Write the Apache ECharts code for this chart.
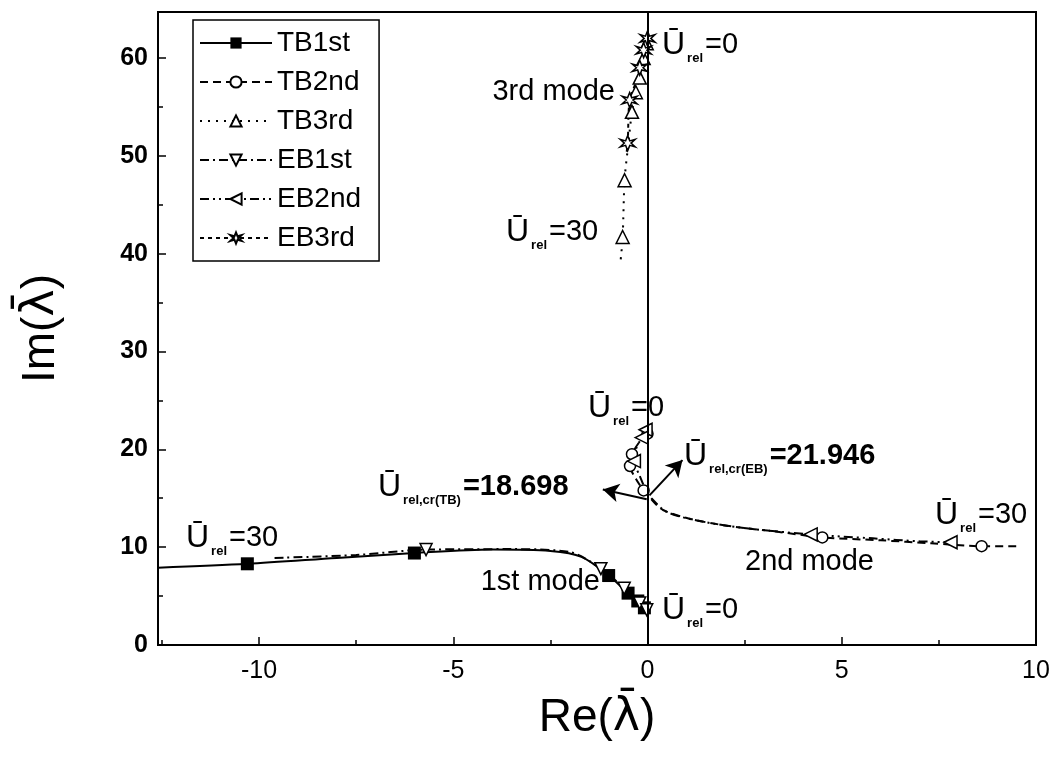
<!DOCTYPE html>
<html>
<head>
<meta charset="utf-8">
<script src="https://cdn.jsdelivr.net/npm/echarts@6/dist/echarts.min.js"></script>
<style>
  html, body { margin: 0; padding: 0; background: #fff; }
  #chart { width: 1059px; height: 767px; }
</style>
</head>
<body>
<div id="chart"></div>
<script>
// root loci data: [Re, Im]
var tb1stX = [-12.6, -10.3, -8, -6, -4, -2.5, -1.7, -1.0, -0.5, -0.25, -0.08];
var tb1stY = [7.9, 8.3, 8.9, 9.4, 9.75, 9.6, 9.0, 7.1, 5.3, 4.5, 3.8];
var tb1stMarks = [1, 3, 7, 8, 9, 10];

var tb2ndX = [0.0, -0.2, -0.4, -0.45, -0.3, -0.1, 0.05, 0.4, 1.2, 2.2, 3.3, 4.5, 6, 7.3, 8.6, 9.6];
var tb2ndY = [21.6, 20.8, 19.5, 18.3, 17.0, 15.8, 15.1, 13.8, 12.8, 12.1, 11.6, 11.0, 10.7, 10.4, 10.1, 10.1];
var tb2ndMarks = [0, 2, 3, 5, 11, 14];

var tb3rdX = [-0.02, -0.1, -0.2, -0.3, -0.4, -0.5, -0.59, -0.64, -0.7];
var tb3rdY = [61.5, 60.0, 58.0, 56.5, 54.5, 51.0, 47.5, 41.7, 39.0];
var tb3rdMarks = [0, 1, 2, 3, 4, 6, 7];

var eb1stX = [-9.6, -7.5, -5.7, -3.5, -2, -1.2, -0.6, -0.2, -0.02];
var eb1stY = [8.9, 9.2, 9.75, 9.8, 9.5, 7.8, 5.8, 4.3, 3.6];
var eb1stMarks = [2, 5, 6, 7, 8];

var eb2ndX = [-0.05, -0.15, -0.3, -0.35, -0.2, -0.05, 0.1, 0.5, 1.3, 2.4, 4.2, 5.8, 7.0, 7.8];
var eb2ndY = [22.0, 21.2, 20.0, 18.8, 17.3, 15.9, 15.0, 13.6, 12.7, 12.0, 11.3, 10.9, 10.6, 10.5];
var eb2ndMarks = [0, 1, 3, 10, 13];

var eb3rdX = [0.0, -0.1, -0.2, -0.3, -0.46, -0.51, -0.55];
var eb3rdY = [62.0, 60.8, 59.0, 57.5, 55.7, 51.3, 50.0];
var eb3rdMarks = [0, 1, 2, 4, 5];

var xTicks = [-10, -5, 0, 5, 10];
var yTicks = [0, 10, 20, 30, 40, 50, 60];

// critical speed arrows, [from, to] in data units
var arrowTB = [[-0.02, 14.9], [-1.15, 15.9]];
var arrowEB = [[0.05, 15.3], [0.9, 18.9]];

function pts(xs, ys, marks) {
  return xs.map(function (x, i) {
    var p = { value: [x, ys[i]] };
    if (marks.indexOf(i) < 0) p.symbol = 'none';
    return p;
  });
}

var starPath = 'path://M0,-10 L2.5,-3 L9,-5 L4,0 L9,5 L2.5,3 L0,10 L-2.5,3 L-9,5 L-4,0 L-9,-5 L-2.5,-3 Z';
var hollow = { color: '#fff', borderColor: '#000', borderWidth: 1.5 };

var chart = echarts.init(document.getElementById('chart'), null, { renderer: 'canvas' });

function lab(x, y, sub, rest, bold, align) {
  var w = bold ? 'bold' : 'normal';
  return {
    type: 'text', x: x, y: y, z: 100,
    style: {
      text: '{u|Ū}{s|' + sub + '}{t|' + rest + '}',
      align: align || 'left', verticalAlign: 'middle',
      rich: {
        u: { fontSize: 32, fontFamily: 'Liberation Sans', lineHeight: 44, fill: '#000', verticalAlign: 'middle' },
        s: { fontSize: 13, fontWeight: 'bold', fontFamily: 'Liberation Sans', lineHeight: 44, fill: '#000', verticalAlign: 'bottom', padding: [0, 2, 2, 2] },
        t: { fontSize: 29, fontWeight: w, fontFamily: 'Liberation Sans', lineHeight: 44, fill: '#000', verticalAlign: 'middle' }
      }
    }
  };
}
function txt(x, y, s, align) {
  return {
    type: 'text', x: x, y: y, z: 100,
    style: { text: s, align: align || 'left', verticalAlign: 'middle', font: '29px "Liberation Sans"', fill: '#000' }
  };
}

var nameRich = {
  a: { fontSize: 46, fontFamily: 'Liberation Sans', color: '#000' },
  b: { fontSize: 46, fontFamily: 'DejaVu Sans', color: '#000' }
};

var option = {
  animation: false,
  backgroundColor: '#fff',
  grid: { left: 158, right: 23, top: 12, bottom: 122, show: true, borderColor: '#000', borderWidth: 2, backgroundColor: 'transparent' },
  legend: {
    orient: 'vertical', left: 193, top: 20,
    padding: [9, 18, 9, 6], itemGap: 11, itemWidth: 72, itemHeight: 14,
    borderColor: '#000', borderWidth: 1.5, backgroundColor: '#fff',
    textStyle: { fontSize: 28, fontFamily: 'Liberation Sans', color: '#000', lineHeight: 28 },
    data: ['TB1st', 'TB2nd', 'TB3rd', 'EB1st', 'EB2nd', 'EB3rd']
  },
  xAxis: {
    type: 'value', min: -12.6, max: 10,
    name: '{a|Re(}{b|λ̄}{a|)}', nameLocation: 'middle', nameGap: 50,
    nameTextStyle: { fontSize: 46, fontFamily: 'Liberation Sans', color: '#000', verticalAlign: 'top', rich: nameRich },
    axisLine: { onZero: false, lineStyle: { color: '#000', width: 2 } },
    axisTick: { inside: true, length: 8, lineStyle: { color: '#000', width: 1.5 } },
    minorTick: { show: true, splitNumber: 2, length: 5, lineStyle: { color: '#000', width: 1.5 } },
    axisLabel: {
      margin: 14, fontSize: 25, fontFamily: 'Liberation Sans', color: '#000',
      showMinLabel: false, showMaxLabel: true,
      formatter: function (v) { return xTicks.indexOf(Math.round(v * 100) / 100) >= 0 ? String(v) : ''; }
    },
    splitLine: { show: false }
  },
  yAxis: {
    type: 'value', min: 0, max: 64.7,
    name: '{a|Im(}{b|λ̄}{a|)}', nameLocation: 'middle', nameGap: 94, nameRotate: 90,
    nameTextStyle: { fontSize: 46, fontFamily: 'Liberation Sans', color: '#000', rich: nameRich },
    axisLine: { onZero: false, lineStyle: { color: '#000', width: 2 } },
    axisTick: { inside: true, length: 8, lineStyle: { color: '#000', width: 1.5 } },
    minorTick: { show: true, splitNumber: 2, length: 5, lineStyle: { color: '#000', width: 1.5 } },
    axisLabel: {
      margin: 10, fontSize: 25, fontWeight: 'bold', fontFamily: 'Liberation Sans', color: '#000',
      showMaxLabel: false,
      formatter: function (v) { return yTicks.indexOf(Math.round(v * 100) / 100) >= 0 ? String(v) : ''; }
    },
    splitLine: { show: false }
  },
  series: [
    {
      name: 'TB1st', type: 'line', smooth: 0.3, data: pts(tb1stX, tb1stY, tb1stMarks),
      symbol: 'rect', symbolSize: 13, itemStyle: { color: '#000' },
      lineStyle: { color: '#000', width: 2, type: 'solid' },
      markLine: {
        silent: true, symbol: ['none', 'none'], label: { show: false },
        lineStyle: { color: '#000', width: 2, type: 'solid' },
        data: [{ xAxis: 0 }]
      }
    },
    {
      name: 'TB2nd', type: 'line', smooth: 0.3, data: pts(tb2ndX, tb2ndY, tb2ndMarks),
      symbol: 'circle', symbolSize: 11, itemStyle: hollow,
      lineStyle: { color: '#000', width: 2, type: [8, 5] },
      markLine: {
        silent: true, symbol: ['none', 'arrow'], symbolSize: [14, 16], label: { show: false },
        lineStyle: { color: '#000', width: 2, type: 'solid' },
        data: [
          [{ coord: arrowTB[0] }, { coord: arrowTB[1] }],
          [{ coord: arrowEB[0] }, { coord: arrowEB[1] }]
        ]
      }
    },
    {
      name: 'TB3rd', type: 'line', smooth: 0.3, data: pts(tb3rdX, tb3rdY, tb3rdMarks),
      symbol: 'triangle', symbolSize: 13, itemStyle: hollow,
      lineStyle: { color: '#000', width: 2, type: [2, 6] }
    },
    {
      name: 'EB1st', type: 'line', smooth: 0.3, data: pts(eb1stX, eb1stY, eb1stMarks),
      symbol: 'triangle', symbolRotate: 180, symbolSize: 12, itemStyle: hollow,
      lineStyle: { color: '#000', width: 2, type: [9, 4, 2, 4] }
    },
    {
      name: 'EB2nd', type: 'line', smooth: 0.3, data: pts(eb2ndX, eb2ndY, eb2ndMarks),
      symbol: 'triangle', symbolRotate: 90, symbolSize: 13, itemStyle: hollow,
      lineStyle: { color: '#000', width: 2, type: [9, 4, 2, 4, 2, 4] }
    },
    {
      name: 'EB3rd', type: 'line', smooth: 0.3, data: pts(eb3rdX, eb3rdY, eb3rdMarks),
      symbol: starPath, symbolSize: 15, itemStyle: hollow,
      lineStyle: { color: '#000', width: 2, type: [4, 4] }
    }
  ],
  graphic: [
    txt(615, 92, '3rd mode', 'right'),
    lab(662, 45, 'rel', '=0', false),
    lab(506, 232, 'rel', '=30', false),
    lab(588, 408, 'rel', '=0', false),
    lab(684, 456, 'rel,cr(EB)', '=21.946', true),
    lab(378, 487, 'rel,cr(TB)', '=18.698', true),
    lab(186, 538, 'rel', '=30', false),
    txt(600, 582, '1st mode', 'right'),
    lab(662, 610, 'rel', '=0', false),
    txt(745, 562, '2nd mode'),
    lab(935, 515, 'rel', '=30', false)
  ]
};

chart.setOption(option);
</script>
</body>
</html>
